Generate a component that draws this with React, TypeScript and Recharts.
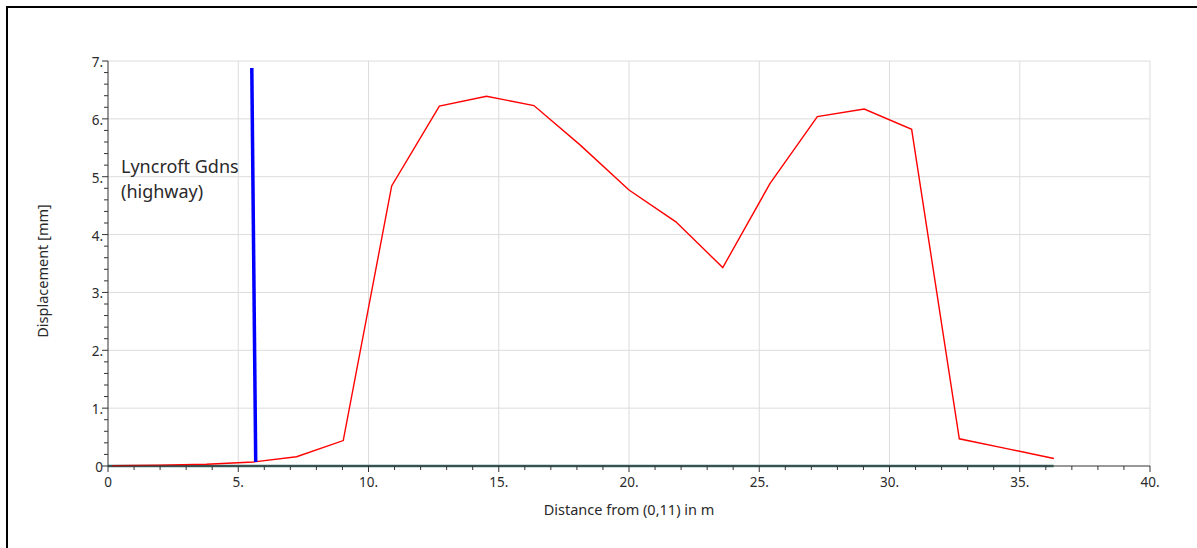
import React from 'react';
import { LineChart, Line, XAxis, YAxis, CartesianGrid } from 'recharts';

// displacement profile along the section line
const redDist = [0.15, 1.97, 3.78, 5.58, 7.24, 9.03, 10.89, 12.72, 14.53, 16.35, 18.12, 20.0, 21.8, 23.6, 25.41, 27.23, 29.03, 30.85, 32.68, 34.5, 36.31];
const redDisp = [0.005, 0.015, 0.03, 0.07, 0.16, 0.44, 4.84, 6.22, 6.39, 6.23, 5.55, 4.77, 4.22, 3.43, 4.88, 6.04, 6.17, 5.82, 0.47, 0.3, 0.13];

// highway marker
const blueDist = [5.52, 5.67];
const blueDisp = [6.88, 0.07];

// baseline
const baseDist = [0, 36.3];
const baseDisp = [0, 0];

const X_MAX = 40;
const Y_MAX = 7;
const xMajor = [5, 10, 15, 20, 25, 30, 35, 40];
const yMajor = [1, 2, 3, 4, 5, 6, 7];
const xTicks = Array.from({ length: 41 }, (_, i) => i);
const yTicks = Array.from({ length: 36 }, (_, i) => Math.round(i * 2) / 10);

const zip = (xs: number[], ys: number[]) => xs.map((x, i) => ({ x, y: ys[i] }));
const redData = zip(redDist, redDisp);
const blueData = zip(blueDist, blueDisp);
const baseData = zip(baseDist, baseDisp);

const FONT = '"Noto Sans", "Open Sans", sans-serif';
const TXT = '#2a2a2a';

const isMajor = (v: number, step: number) => Math.abs(v / step - Math.round(v / step)) < 1e-6;
const fmt = (v: number) => (v === 0 ? '0' : `${Math.round(v)}.`);

const YTick = (props: any) => {
  const { x, y, payload } = props;
  const v = payload.value;
  const major = isMajor(v, 1);
  return (
    <g>
      <line x1={x} x2={x - (major ? 6 : 4)} y1={y} y2={y} stroke="#333" strokeWidth={1} />
      {major && (
        <text x={x - 5} y={y} dy={6} textAnchor="end" fontSize={13.5} fill={TXT} fontFamily={FONT}>
          {fmt(v)}
        </text>
      )}
    </g>
  );
};

const XTick = (props: any) => {
  const { x, y, payload } = props;
  const v = payload.value;
  const major = isMajor(v, 5);
  return (
    <g>
      <line x1={x} x2={x} y1={y} y2={y + (major ? 6 : 4)} stroke="#333" strokeWidth={1} />
      {major && (
        <text x={x} y={y} dy={21} textAnchor="middle" fontSize={13.5} fill={TXT} fontFamily={FONT}>
          {fmt(v)}
        </text>
      )}
    </g>
  );
};

const App: React.FC = () => {
  return (
    <div style={{ position: 'fixed', left: 0, top: 0, width: 1197, height: 548, overflow: 'hidden', background: '#fff' }}>
      <div style={{ position: 'absolute', left: 6, top: 6, width: 1400, height: 800, borderTop: '2px solid #000', borderLeft: '2px solid #000' }} />
      <div style={{ position: 'absolute', left: 0, top: 0 }}>
        <LineChart width={1197} height={548} margin={{ top: 61, right: 47, left: 0, bottom: 52 }}>
          <CartesianGrid
            stroke="#dcdcdc"
            strokeWidth={1}
            verticalCoordinatesGenerator={({ offset }: any) =>
              xMajor.map((v) => offset.left + (v / X_MAX) * offset.width)
            }
            horizontalCoordinatesGenerator={({ offset }: any) =>
              yMajor.map((v) => offset.top + (1 - v / Y_MAX) * offset.height)
            }
          />
          <XAxis
            type="number"
            dataKey="x"
            domain={[0, X_MAX]}
            ticks={xTicks}
            interval={0}
            tickSize={0}
            tickMargin={0}
            tickLine={false}
            tick={<XTick />}
            height={30}
            stroke="#333"
          />
          <YAxis
            type="number"
            dataKey="y"
            domain={[0, Y_MAX]}
            ticks={yTicks}
            interval={0}
            tickSize={0}
            tickMargin={0}
            tickLine={false}
            tick={<YTick />}
            width={108}
            stroke="#333"
          />
          <Line data={baseData} dataKey="y" stroke="#3d7070" strokeWidth={2.5} dot={false} isAnimationActive={false} />
          <Line data={redData} dataKey="y" stroke="#ff0000" strokeWidth={1.4} dot={false} isAnimationActive={false} />
          <Line data={blueData} dataKey="y" stroke="#0000ff" strokeWidth={3.5} dot={false} isAnimationActive={false} />
        </LineChart>
      </div>
      <div style={{ position: 'absolute', left: 42, top: 271, transform: 'translate(-50%, -50%) rotate(-90deg)', whiteSpace: 'nowrap', fontFamily: FONT, fontSize: 14.5, color: TXT }}>
        Displacement [mm]
      </div>
      <div style={{ position: 'absolute', left: 629, top: 509, transform: 'translate(-50%, -50%)', whiteSpace: 'nowrap', fontFamily: FONT, fontSize: 14.5, color: TXT }}>
        Distance from (0,11) in m
      </div>
      <div style={{ position: 'absolute', left: 121, top: 154, fontFamily: FONT, fontSize: 18, lineHeight: '25px', color: TXT }}>
        Lyncroft Gdns
        <br />
        (highway)
      </div>
    </div>
  );
};

export default App;
